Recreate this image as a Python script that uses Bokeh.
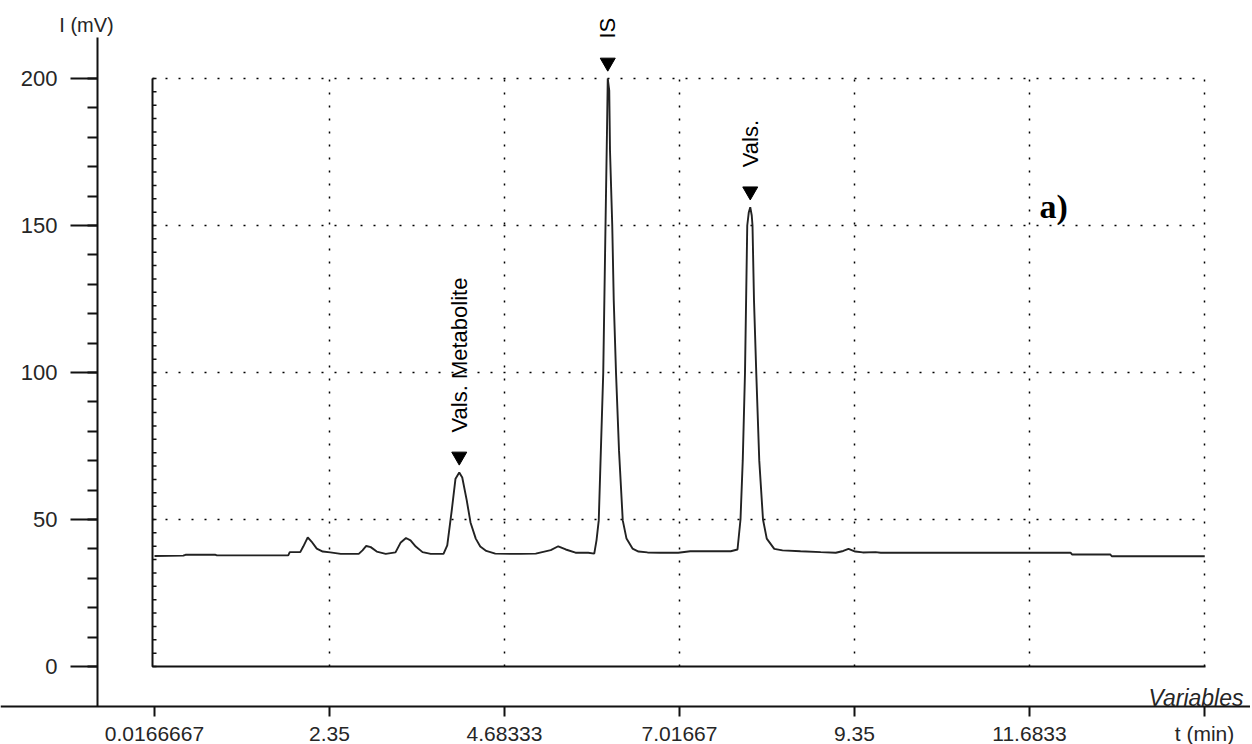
import numpy as np
from bokeh.plotting import figure
from bokeh.models import LinearAxis, FixedTicker, Range1d, Label
from bokeh.core.properties import value
from bokeh.embed import file_html
from bokeh.resources import INLINE

# ---------------- data ----------------
time_min = [0.017, 0.40, 0.43, 0.83, 0.85, 1.80, 1.82, 1.96, 2.00, 2.06, 2.11, 2.18,
            2.26, 2.36, 2.50, 2.74, 2.79, 2.84, 2.90, 2.98, 3.10, 3.23, 3.30, 3.37,
            3.43, 3.50, 3.59, 3.70, 3.87, 3.92, 3.98, 4.03, 4.08, 4.12, 4.18, 4.23,
            4.30, 4.36, 4.44, 4.56, 4.76, 4.90, 5.10, 5.30, 5.40, 5.50, 5.63, 5.80,
            5.88, 5.91, 5.94, 5.96, 6.00, 6.03, 6.05, 6.06, 6.08, 6.09, 6.12, 6.14,
            6.17, 6.21, 6.26, 6.31, 6.39, 6.47, 6.59, 6.76, 7.00, 7.16, 7.70, 7.79,
            7.83, 7.86, 7.89, 7.92, 7.94, 7.96, 7.98, 7.99, 8.01, 8.04, 8.08, 8.13,
            8.18, 8.28, 8.39, 8.63, 8.90, 9.10, 9.20, 9.27, 9.36, 9.46, 9.63, 9.70,
            12.23, 12.25, 12.76, 12.78, 14.02]
signal_mv = [37.6, 37.7, 38.0, 38.0, 37.8, 37.8, 38.9, 38.9, 40.8, 43.9, 42.5, 40.1,
             39.1, 38.8, 38.3, 38.3, 39.5, 41.0, 40.6, 39.1, 38.3, 38.8, 42.2, 43.7,
             42.9, 40.8, 38.9, 38.3, 38.3, 41.2, 53.1, 63.9, 66.0, 64.3, 56.5, 49.0,
             43.5, 40.8, 39.3, 38.4, 38.3, 38.3, 38.4, 39.6, 40.9, 39.8, 38.7, 38.7,
             38.4, 42.9, 49.7, 66.7, 100.0, 150.0, 182.3, 200.0, 195.9, 175.5, 150.0, 124.5,
             100.0, 73.5, 49.7, 43.5, 40.1, 39.1, 38.8, 38.7, 38.7, 39.2, 39.2, 39.8,
             50.0, 70.1, 100.0, 150.0, 154.4, 156.2, 153.4, 150.0, 124.5, 100.0, 70.1, 50.0,
             43.5, 40.0, 39.5, 39.2, 38.9, 38.7, 39.3, 40.0, 39.1, 38.8, 38.9, 38.7,
             38.7, 38.1, 38.1, 37.5, 37.5]

peak_names = ["Vals. Metabolite", "IS", "Vals."]
peak_times = [4.08, 6.06, 7.96]
peak_heights = [66.0, 200.0, 156.2]

x_tick_values = [0.0166667, 2.35, 4.68333, 7.01667, 9.35, 11.6833, 14.0167]
x_tick_labels = ["0.0166667", "2.35", "4.68333", "7.01667", "9.35", "11.6833", "t (min)"]
y_tick_values = [0, 50, 100, 150, 200]
y_minor_ticks = list(range(0, 201, 10))
inner_ticks = list(np.linspace(0, 200, 45))

# ---------------- layout / scales ----------------
W, H = 1250, 744
PX_MIN = 75.0     # pixels per minute
PX_MV = 2.94      # pixels per mV
x_start = x_tick_values[0] - 154 / PX_MIN
x_end = x_start + W / PX_MIN
y_end = 666 / PX_MV
y_start = y_end - H / PX_MV

def tx(cx):   # canvas x pixel -> data
    return x_start + cx / PX_MIN

def vy(cy):   # canvas y pixel -> data
    return y_end - cy / PX_MV

p = figure(width=W, height=H, x_range=Range1d(x_start, x_end), y_range=Range1d(y_start, y_end),
           output_backend="svg", toolbar_location=None, x_axis_location=None,
           y_axis_location=None, min_border=0, title=None)
p.outline_line_color = None
p.background_fill_color = "white"
p.border_fill_color = "white"
p.grid.visible = False

TXT = "#262626"

# outer y axis
yaxis = LinearAxis(fixed_location=tx(97),
                   ticker=FixedTicker(ticks=y_tick_values, minor_ticks=y_minor_ticks),
                   bounds=(vy(706), vy(37)))
yaxis.axis_line_width = 2
yaxis.axis_line_color = "#111111"
yaxis.major_tick_out = 27
yaxis.major_tick_in = 0
yaxis.major_tick_line_width = 2
yaxis.major_tick_line_color = "#111111"
yaxis.minor_tick_out = 10
yaxis.minor_tick_in = 0
yaxis.minor_tick_line_width = 2
yaxis.minor_tick_line_color = "#111111"
yaxis.major_label_standoff = 13
yaxis.major_label_text_font = "Liberation Sans"
yaxis.major_label_text_font_size = "22px"
yaxis.major_label_text_color = TXT
p.add_layout(yaxis, "left")

# outer x axis
xaxis = LinearAxis(fixed_location=vy(706),
                   ticker=FixedTicker(ticks=x_tick_values, minor_ticks=[]),
                   major_label_overrides={v: s for v, s in zip(x_tick_values, x_tick_labels)})
xaxis.axis_line_width = 2
xaxis.axis_line_color = "#111111"
xaxis.major_tick_out = 10
xaxis.major_tick_in = 0
xaxis.major_tick_line_width = 2
xaxis.major_tick_line_color = "#111111"
xaxis.minor_tick_out = 0
xaxis.minor_tick_in = 0
xaxis.major_label_standoff = 5
xaxis.major_label_text_font = "Liberation Sans"
xaxis.major_label_text_font_size = "21px"
xaxis.major_label_text_color = TXT
p.add_layout(xaxis, "below")

# inner frame and dotted grid
in_left = x_tick_values[0] - 2 / PX_MIN
in_right = x_tick_values[-1] + 1 / PX_MIN
hg = y_tick_values[1:]
p.segment(x0=[in_left] * len(hg), x1=[in_right] * len(hg), y0=hg, y1=hg,
          line_color="black", line_width=1.5, line_dash=value("2 11"))
vg = x_tick_values[1:]
p.segment(x0=vg, x1=vg, y0=[0] * len(vg), y1=[200] * len(vg),
          line_color="black", line_width=1.5, line_dash=value("2 11"))
p.line([in_left, in_left, in_right], [y_tick_values[-1], 0, 0], line_color="#111111", line_width=2)
p.segment(x0=[in_left] * len(inner_ticks), x1=[in_left + 4 / PX_MIN] * len(inner_ticks),
          y0=inner_ticks, y1=inner_ticks, line_color="#111111", line_width=1.5)

# chromatogram
p.line(time_min, signal_mv, line_color="#222222", line_width=1.9)

# peak markers and labels
p.scatter(peak_times, [h + 16 / PX_MV for h in peak_heights], marker="inverted_triangle",
          size=15, color="black")
p.text(x=peak_times, y=peak_heights, text=peak_names, angle=np.pi / 2, y_offset=-40,
       text_align="left", text_baseline="middle", text_font=value("Liberation Sans"),
       text_font_size="22px", text_color="black")

# annotations
p.add_layout(Label(x=tx(86), y=vy(24), text="I (mV)", text_align="center",
                   text_baseline="middle", text_font="Liberation Sans", text_font_size="20px",
                   text_color=TXT))
p.add_layout(Label(x=tx(1243), y=vy(697), text="Variables", text_align="right",
                   text_baseline="alphabetic", text_font="Liberation Sans",
                   text_font_style="italic", text_font_size="23px", text_color=TXT))
p.add_layout(Label(x=tx(1039), y=vy(206), text="a)", text_align="left",
                   text_baseline="alphabetic", text_font="Liberation Serif",
                   text_font_style="bold", text_font_size="34px", text_color="black"))

open("out.html", "w").write(file_html(p, INLINE))
